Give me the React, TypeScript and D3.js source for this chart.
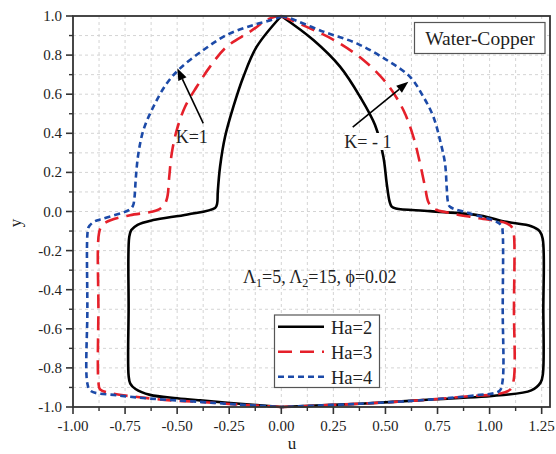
import React from "react";
import * as d3 from "d3";

type P = [number, number];

// Ha = 2 (black)
const ha2K1: P[] = [[0,1],[-0.118,0.843],[-0.182,0.689],[-0.23,0.536],[-0.27,0.382],[-0.294,0.229],[-0.305,0.1],[-0.308,0.041],[-0.318,0.018],[-0.45,-0.015],[-0.615,-0.044],[-0.69,-0.068],[-0.72,-0.095],[-0.73,-0.13],[-0.733,-0.5],[-0.733,-0.84],[-0.725,-0.88],[-0.7,-0.908],[-0.63,-0.938],[-0.5,-0.955],[-0.39,-0.966],[-0.2,-0.983],[0,-1]];
const ha2Km1: P[] = [[0,1],[0.154,0.877],[0.282,0.741],[0.378,0.587],[0.45,0.442],[0.49,0.28],[0.506,0.144],[0.52,0.05],[0.53,0.025],[0.55,0.015],[0.714,0.002],[0.954,-0.02],[1.08,-0.053],[1.2,-0.075],[1.24,-0.1],[1.255,-0.14],[1.258,-0.5],[1.256,-0.83],[1.245,-0.875],[1.2,-0.915],[1.05,-0.94],[0.7,-0.963],[0.38,-0.983],[0,-1]];
// Ha = 3 (red)
const ha3K1: P[] = [[0,1],[-0.054,0.988],[-0.15,0.92],[-0.262,0.843],[-0.342,0.741],[-0.406,0.638],[-0.462,0.536],[-0.502,0.416],[-0.526,0.297],[-0.538,0.177],[-0.548,0.07],[-0.565,0.03],[-0.6,0.005],[-0.726,-0.019],[-0.82,-0.045],[-0.86,-0.07],[-0.875,-0.11],[-0.878,-0.5],[-0.878,-0.87],[-0.87,-0.91],[-0.81,-0.931],[-0.69,-0.949],[-0.53,-0.966],[-0.39,-0.974],[-0.2,-0.988],[0,-1]];
const ha3Km1: P[] = [[0,1],[0.026,0.988],[0.138,0.937],[0.266,0.869],[0.394,0.775],[0.506,0.655],[0.586,0.519],[0.634,0.382],[0.666,0.246],[0.69,0.126],[0.706,0.049],[0.73,0.015],[0.81,-0.008],[0.95,-0.035],[1.082,-0.061],[1.11,-0.085],[1.117,-0.12],[1.117,-0.5],[1.116,-0.86],[1.1,-0.91],[1.05,-0.931],[0.9,-0.945],[0.7,-0.963],[0.38,-0.983],[0,-1]];
// Ha = 4 (blue)
const ha4K1: P[] = [[0,1],[-0.022,0.988],[-0.134,0.954],[-0.262,0.903],[-0.374,0.826],[-0.486,0.732],[-0.55,0.655],[-0.614,0.536],[-0.662,0.416],[-0.686,0.297],[-0.698,0.177],[-0.705,0.07],[-0.712,0.03],[-0.73,0.008],[-0.855,-0.036],[-0.9,-0.053],[-0.925,-0.08],[-0.931,-0.12],[-0.931,-0.5],[-0.931,-0.88],[-0.915,-0.918],[-0.79,-0.94],[-0.63,-0.957],[-0.39,-0.974],[-0.2,-0.988],[0,-1]];
const ha4Km1: P[] = [[0,1],[0.042,0.988],[0.202,0.92],[0.362,0.86],[0.506,0.775],[0.618,0.689],[0.682,0.587],[0.73,0.485],[0.762,0.365],[0.786,0.246],[0.794,0.126],[0.8,0.05],[0.81,0.024],[0.906,-0.01],[1.034,-0.053],[1.058,-0.075],[1.063,-0.11],[1.063,-0.5],[1.062,-0.87],[1.047,-0.918],[0.935,-0.94],[0.7,-0.963],[0.38,-0.983],[0,-1]];

const xTicks = [-1, -0.75, -0.5, -0.25, 0, 0.25, 0.5, 0.75, 1, 1.25];
const xTickLabels = ["-1.00", "-0.75", "-0.50", "-0.25", "0.00", "0.25", "0.50", "0.75", "1.00", "1.25"];
const yTicks = [-1, -0.8, -0.6, -0.4, -0.2, 0, 0.2, 0.4, 0.6, 0.8, 1];
const yTickLabels = ["-1.0", "-0.8", "-0.6", "-0.4", "-0.2", "0.0", "0.2", "0.4", "0.6", "0.8", "1.0"];
const xMinor = d3.range(-0.875, 1.3, 0.25);
const yMinor = d3.range(-0.9, 1.0, 0.2);
const legendLabels = ["Ha=2", "Ha=3", "Ha=4"];

const W = 556, H = 454;
const L = 73, R = 550, T = 16, B = 407;
const FONT = "'Liberation Serif', 'Times New Roman', serif";

const series = [
  { data: [ha2K1, ha2Km1], color: "#000000", dash: "none" },
  { data: [ha3K1, ha3Km1], color: "#e5202a", dash: "14,8" },
  { data: [ha4K1, ha4Km1], color: "#1c4aa8", dash: "6,4" },
];

export default function App() {
  const x = d3.scaleLinear().domain([-1, 1.29]).range([L, R]);
  const y = d3.scaleLinear().domain([-1, 1]).range([B, T]);
  const line = d3.line<P>().x(d => x(d[0])).y(d => y(d[1])).curve(d3.curveCatmullRom.alpha(0.5));
  const gridX = [...xTicks, ...xMinor].filter(v => v > -0.99);
  const gridY = [...yTicks, ...yMinor].filter(v => v > -0.99 && v < 0.99);

  const arrow = (x1: number, y1: number, x2: number, y2: number) => {
    const ang = Math.atan2(y2 - y1, x2 - x1);
    const len = 12, w = 4.5;
    const bx = x2 - len * Math.cos(ang), by = y2 - len * Math.sin(ang);
    const px = -Math.sin(ang) * w, py = Math.cos(ang) * w;
    return (
      <g>
        <line x1={x1} y1={y1} x2={bx} y2={by} stroke="#000" strokeWidth={1.6} />
        <polygon points={`${x2},${y2} ${bx + px},${by + py} ${bx - px},${by - py}`} fill="#000" />
      </g>
    );
  };

  return (
    <svg width={W} height={H} style={{ position: "absolute", left: 0, top: 0, background: "#fff" }} fontFamily={FONT}>
      <rect x={0} y={0} width={W} height={H} fill="#fff" />
      {/* grid */}
      {gridX.map((v, i) => (
        <line key={"gx" + i} x1={x(v)} x2={x(v)} y1={T} y2={B} stroke="#d4d4d4" strokeWidth={1} strokeDasharray="3,3" />
      ))}
      {gridY.map((v, i) => (
        <line key={"gy" + i} x1={L} x2={R} y1={y(v)} y2={y(v)} stroke="#d4d4d4" strokeWidth={1} strokeDasharray="3,3" />
      ))}
      {/* curves */}
      {series.map((s, i) =>
        s.data.map((d, j) => (
          <path key={`c${i}${j}`} d={line(d) || ""} fill="none" stroke={s.color} strokeWidth={2.6}
            strokeDasharray={s.dash === "none" ? undefined : s.dash} />
        ))
      )}
      {/* frame */}
      <rect x={L} y={T} width={R - L} height={B - T} fill="none" stroke="#333" strokeWidth={1.8} />
      {/* x ticks */}
      {xTicks.map((v, i) => (
        <g key={"xt" + i}>
          <line x1={x(v)} x2={x(v)} y1={B} y2={B + 7} stroke="#333" strokeWidth={1.6} />
          <text x={x(v)} y={431} fontSize={15} textAnchor="middle" fill="#222">{xTickLabels[i]}</text>
        </g>
      ))}
      {xMinor.map((v, i) => (
        <line key={"xm" + i} x1={x(v)} x2={x(v)} y1={B} y2={B + 4} stroke="#333" strokeWidth={1.4} />
      ))}
      {/* y ticks */}
      {yTicks.map((v, i) => (
        <g key={"yt" + i}>
          <line x1={L - 7} x2={L} y1={y(v)} y2={y(v)} stroke="#333" strokeWidth={1.6} />
          <text x={62} y={y(v) + 5} fontSize={15} textAnchor="end" fill="#222">{yTickLabels[i]}</text>
        </g>
      ))}
      {yMinor.map((v, i) => (
        <line key={"ym" + i} x1={L - 4} x2={L} y1={y(v)} y2={y(v)} stroke="#333" strokeWidth={1.4} />
      ))}
      {/* axis titles */}
      <text x={292} y={449} fontSize={17} textAnchor="middle" fill="#222">u</text>
      <text transform="translate(21,223) rotate(-90)" fontSize={17} textAnchor="middle" fill="#222">y</text>

      {/* annotations */}
      <rect x={345} y={133} width={48} height={17} fill="#fff" />
      {arrow(x(-0.3745), y(0.451), x(-0.4993), y(0.7325))}
      {arrow(x(0.343), y(0.431), x(0.61), y(0.664))}
      <text x={x(-0.43)} y={y(0.35)} fontSize={18} textAnchor="middle" fill="#222">K=1</text>
      <text x={x(0.416)} y={y(0.325)} fontSize={18} textAnchor="middle" fill="#222">K= - 1</text>

      {/* Water-Copper box */}
      <rect x={414.5} y={22.5} width={130.5} height={31} fill="#fff" stroke="#555" strokeWidth={1.2} />
      <text x={480} y={45} fontSize={19.5} textAnchor="middle" fill="#222">Water-Copper</text>

      {/* parameters */}
      <text x={243} y={283} fontSize={18} fill="#222">
        Λ<tspan fontSize={12} dy={4}>1</tspan><tspan dy={-4}>=5, Λ</tspan><tspan fontSize={12} dy={4}>2</tspan><tspan dy={-4}>=15, ϕ=0.02</tspan>
      </text>

      {/* legend */}
      <rect x={274.5} y={315} width={105} height={72.5} fill="#fff" stroke="#555" strokeWidth={1.2} />
      {series.map((s, i) => (
        <g key={"lg" + i}>
          <line x1={278} x2={324} y1={326.7 + i * 25} y2={326.7 + i * 25} stroke={s.color} strokeWidth={2.6}
            strokeDasharray={s.dash === "none" ? undefined : s.dash} />
          <text x={331} y={334 + i * 25} fontSize={18.5} fill="#222">{legendLabels[i]}</text>
        </g>
      ))}
    </svg>
  );
}
